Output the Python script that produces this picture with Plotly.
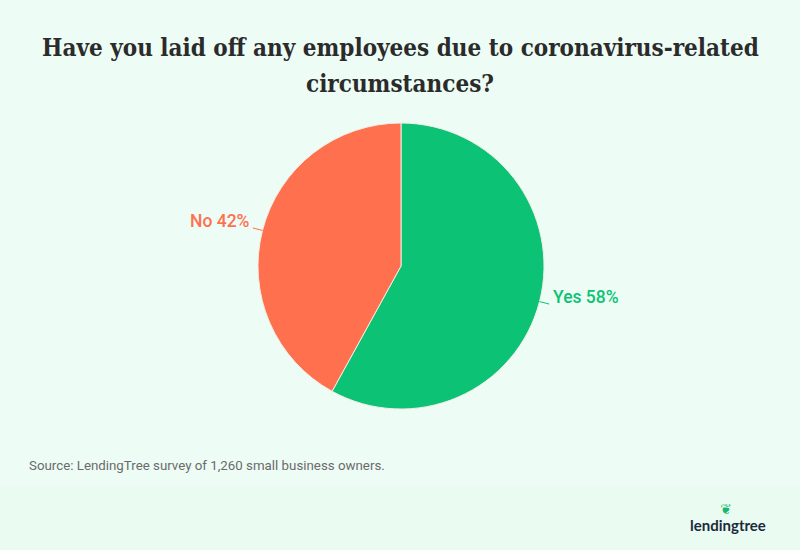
import math
import plotly.graph_objects as go

labels = ["Yes", "No"]
values = [58, 42]
colors = ["#0cc274", "#ff714e"]

title_lines = ["Have you laid off any employees due to coronavirus-related", "circumstances?"]
source_text = "Source: LendingTree survey of 1,260 small business owners."

W, H = 800, 550
cx, cy, r = 401, 266, 143


def px(x):
    return x / W


def py(y):
    return 1 - y / H


fig = go.Figure()
fig.add_trace(go.Pie(
    labels=labels, values=values, sort=False, direction="clockwise", rotation=0,
    marker=dict(colors=colors, line=dict(color="#f3ece4", width=1)),
    textinfo="none", showlegend=False, hoverinfo="skip",
    domain=dict(x=[px(cx - r), px(cx + r)], y=[py(cy + r), py(cy - r)]),
))

# bottom band
fig.add_shape(type="rect", xref="paper", yref="paper", x0=0, x1=1, y0=0, y1=py(486),
              fillcolor="#eafbf2", line=dict(width=0), layer="below")

# outside labels with leader lines, derived from the slice mid-angles
total = sum(values)
cum = 0
for lab, val, col in zip(labels, values, colors):
    mid = (cum + val / 2) / total * 2 * math.pi
    cum += val
    dx, dy = math.sin(mid), -math.cos(mid)
    x0, y0 = cx + r * dx, cy + r * dy
    x1, y1 = cx + (r + 10) * dx, cy + (r + 10) * dy
    fig.add_shape(type="line", xref="paper", yref="paper",
                  x0=px(x0), y0=py(y0), x1=px(x1), y1=py(y1),
                  line=dict(color=col, width=1))
    right = dx >= 0
    fig.add_annotation(text=f"{lab} {round(val / total * 100)}%", xref="paper", yref="paper",
                       x=px(x1 + (2 if right else -1)), y=py(y1 - 7),
                       xanchor="left" if right else "right", yanchor="middle", showarrow=False,
                       font=dict(family="Roboto", size=17.5, color=col, weight=500))

fig.add_annotation(text=title_lines[0], xref="paper", yref="paper", x=0.5, y=py(47),
                   xanchor="center", yanchor="middle", showarrow=False,
                   font=dict(family="DejaVu Serif Condensed", size=24, color="#2b2b2b", weight="bold"))
fig.add_annotation(text=title_lines[1], xref="paper", yref="paper", x=0.5, y=py(84),
                   xanchor="center", yanchor="middle", showarrow=False,
                   font=dict(family="DejaVu Serif Condensed", size=24, color="#2b2b2b", weight="bold"))
fig.add_annotation(text=source_text, xref="paper", yref="paper", x=px(27), y=py(465),
                   xanchor="left", yanchor="middle", showarrow=False,
                   font=dict(family="Roboto", size=13.3, color="#6b6b6b"))
fig.add_annotation(text="<b>lendingtree</b>", xref="paper", yref="paper", x=px(768), y=py(525),
                   xanchor="right", yanchor="middle", showarrow=False,
                   font=dict(family="Lato", size=15, color="#1c2a3c"))
fig.add_annotation(text="❦", xref="paper", yref="paper", x=px(726), y=py(509),
                   xanchor="center", yanchor="middle", showarrow=False,
                   font=dict(family="DejaVu Sans", size=14, color="#13b86c"))

fig.update_layout(width=W, height=H, margin=dict(l=0, r=0, t=0, b=0),
                  paper_bgcolor="#edfcf5", plot_bgcolor="#edfcf5")
fig.write_html("out.html", config={"displayModeBar": False},
               post_script="document.body.style.margin='0';")
